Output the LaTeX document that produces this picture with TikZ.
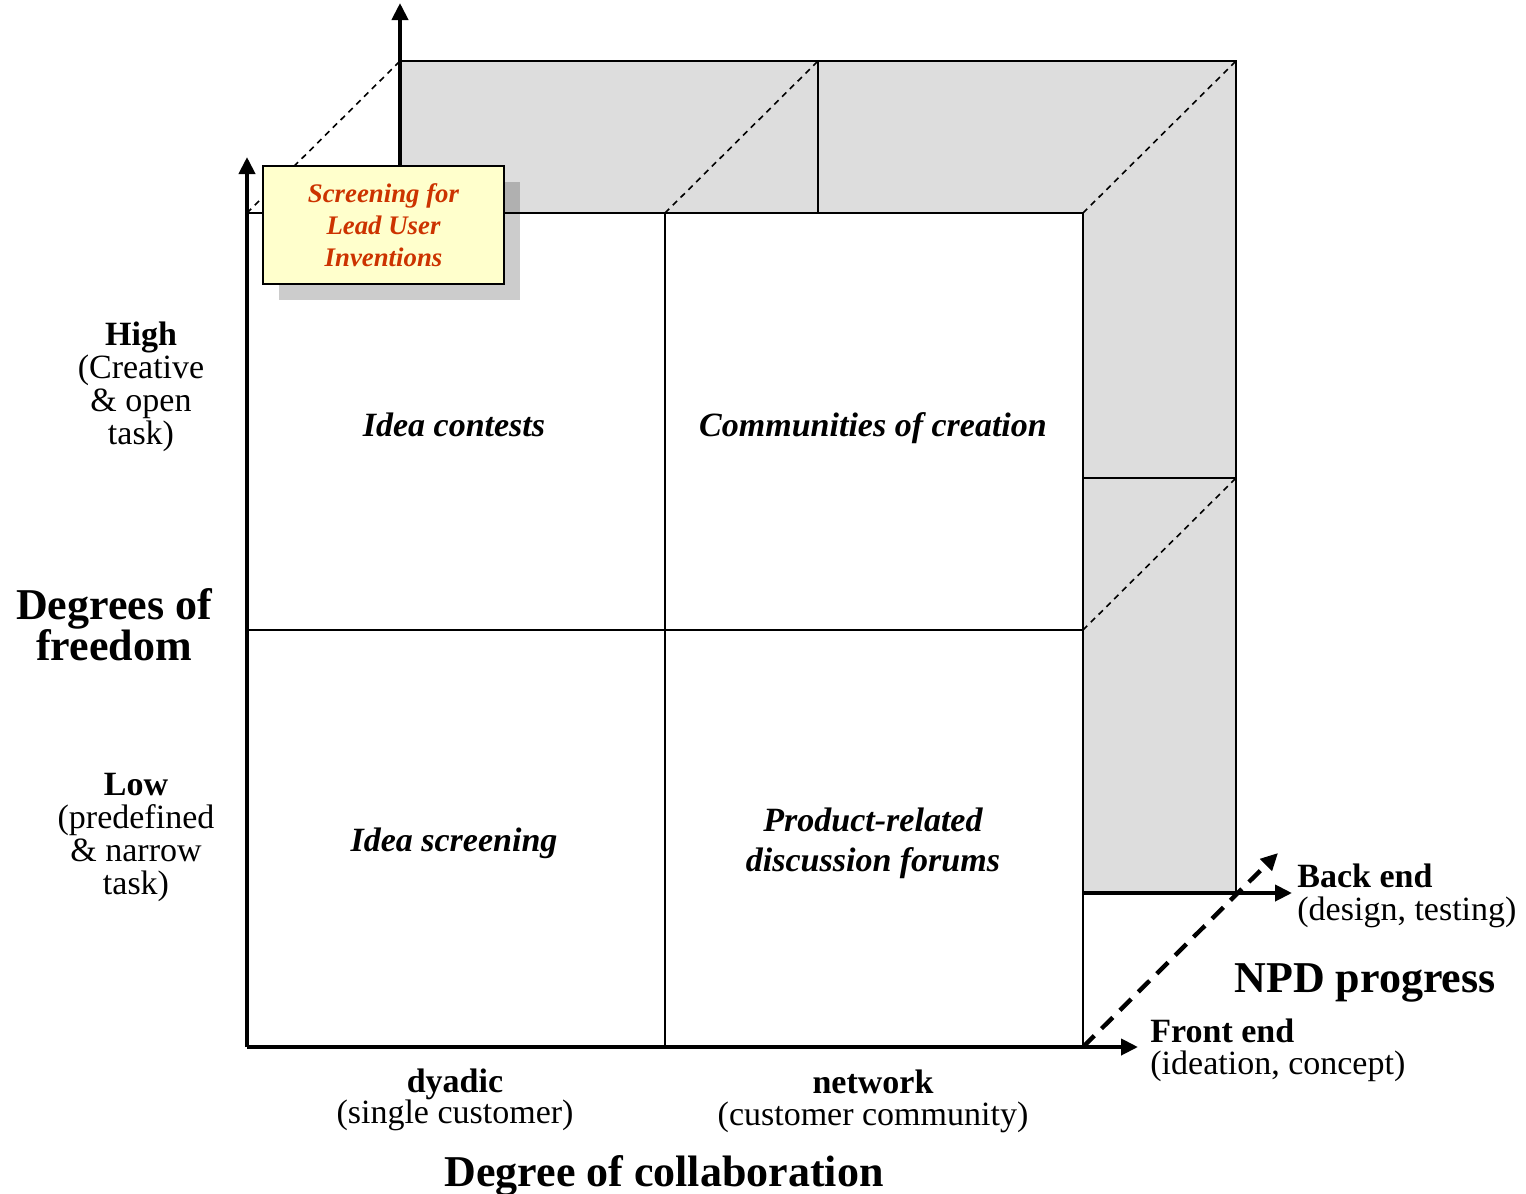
\documentclass[tikz,border=0pt]{standalone}
\usepackage{fontspec}
\setmainfont{Liberation Serif}
\usetikzlibrary{arrows.meta}
\definecolor{stripgray}{HTML}{DDDDDD}
\definecolor{boxyellow}{HTML}{FFFFCC}
\definecolor{boxred}{HTML}{CC3300}
\begin{document}
\begin{tikzpicture}[x=0.5pt,y=-0.5pt,
  gridline/.style={line width=0.9pt},
  thindash/.style={line width=0.8pt, dash pattern=on 3pt off 2.5pt},
  axis/.style={line width=2pt, -{Triangle[length=8.5pt,width=8pt]}},
  dashaxis/.style={line width=2.2pt, dash pattern=on 8pt off 5pt, -{Triangle[length=8.5pt,width=8pt]}},
  lbl/.style={font=\fontsize{17}{20}\selectfont, inner sep=0pt, anchor=base},
  lblb/.style={lbl, font=\fontsize{17}{20}\selectfont\bfseries},
  cell/.style={lbl, font=\fontsize{17}{20}\selectfont\bfseries\itshape},
  big/.style={lbl, font=\fontsize{22}{26}\selectfont\bfseries},
  notebox/.style={draw, line width=1.2pt, fill=boxyellow, text=boxred,
    font=\fontsize{13.4}{16}\selectfont\bfseries\itshape, align=center,
    minimum width=120.5pt, minimum height=59pt, inner sep=0pt}
]
\useasboundingbox (0,0) rectangle (1526,1194);
% corner coordinates
\coordinate (FBL) at (247,1047);
\coordinate (FTL) at (247,213);
\coordinate (FTM) at (665,213);
\coordinate (FTR) at (1083,213);
\coordinate (FMR) at (1083,630);
\coordinate (FML) at (247,630);
\coordinate (FBM) at (665,1047);
\coordinate (FBR) at (1083,1047);
\coordinate (BTL) at (400,61);
\coordinate (BTM) at (818,61);
\coordinate (BTR) at (1236,61);
\coordinate (BMR) at (1236,478);
\coordinate (BBR) at (1236,893);
\coordinate (BBV) at (1083,893);
\coordinate (BMV) at (1083,478);
\coordinate (BLF) at (400,213);
\coordinate (BMF) at (818,213);
% gray strips
\fill[stripgray] (BTL) rectangle (FTR -| BBR);
\fill[stripgray] (FTR) rectangle (BBR);
% back outline
\draw[gridline] (BTL) -- (BTR) -- (BBR);
\draw[gridline] (BMV) -- (BMR);
\draw[gridline] (BTM) -- (BMF);
% front face
\draw[gridline] (FTL) -- (FTR) -- (FBR);
\draw[gridline] (FTM) -- (FBM);
\draw[gridline] (FML) -- (FMR);
% depth edges
\draw[thindash] (FTL) -- (BTL);
\draw[thindash] (FTM) -- (BTM);
\draw[thindash] (FTR) -- (BTR);
\draw[thindash] (FMR) -- (BMR);
% axes
\coordinate (YT) at (247,157);
\coordinate (XT) at (1138,1047);
\coordinate (BYT) at (400,3);
\coordinate (BXT) at (1292,893);
\coordinate (ZT) at (1278,853);
\draw[axis] (FBL) -- (YT);
\draw[axis] (FBL) -- (XT);
\draw[axis] (BLF) -- (BYT);
\draw[axis] (BBV) -- (BXT);
\draw[dashaxis] (FBR) -- (ZT);
% note box with shadow
\fill[black, opacity=0.2] (279,182) rectangle (520,300);
\node[notebox] (note) at (383.5,225) {Screening for\\Lead User\\Inventions};
% cells
\node[cell] (c1) at (454,436) {Idea contests};
\node[cell] (c2) at (873,436) {Communities of creation};
\node[cell] (c3) at (454,851) {Idea screening};
\node[cell] (c4a) at (873,831) {Product-related};
\node[cell] (c4b) at (873,871) {discussion forums};
% left labels
\node[lblb] (high) at (141,345) {High};
\node[lbl] (high1) at (141,378) {(Creative};
\node[lbl] (high2) at (141,411) {\& open};
\node[lbl] (high3) at (141,444) {task)};
\node[big] (dof1) at (114,619) {Degrees of};
\node[big] (dof2) at (114,660) {freedom};
\node[lblb] (low) at (136,795) {Low};
\node[lbl] (low1) at (136,828) {(predefined};
\node[lbl] (low2) at (136,861) {\& narrow};
\node[lbl] (low3) at (136,894) {task)};
% bottom labels
\node[lblb] (dy) at (455,1092) {dyadic};
\node[lbl] (dy1) at (455,1123) {(single customer)};
\node[lblb] (nw) at (873,1093) {network};
\node[lbl] (nw1) at (873,1125) {(customer community)};
\node[big] (doc) at (664,1186) {Degree of collaboration};
% right labels
\node[lblb, anchor=base west] (be) at (1297,887) {Back end};
\node[lbl, anchor=base west] (be1) at (1297,920) {(design, testing)};
\node[big] (npd) at (1365,992) {NPD progress};
\node[lblb, anchor=base west] (fe) at (1150,1042) {Front end};
\node[lbl, anchor=base west] (fe1) at (1150,1074) {(ideation, concept)};
\end{tikzpicture}
\end{document}
